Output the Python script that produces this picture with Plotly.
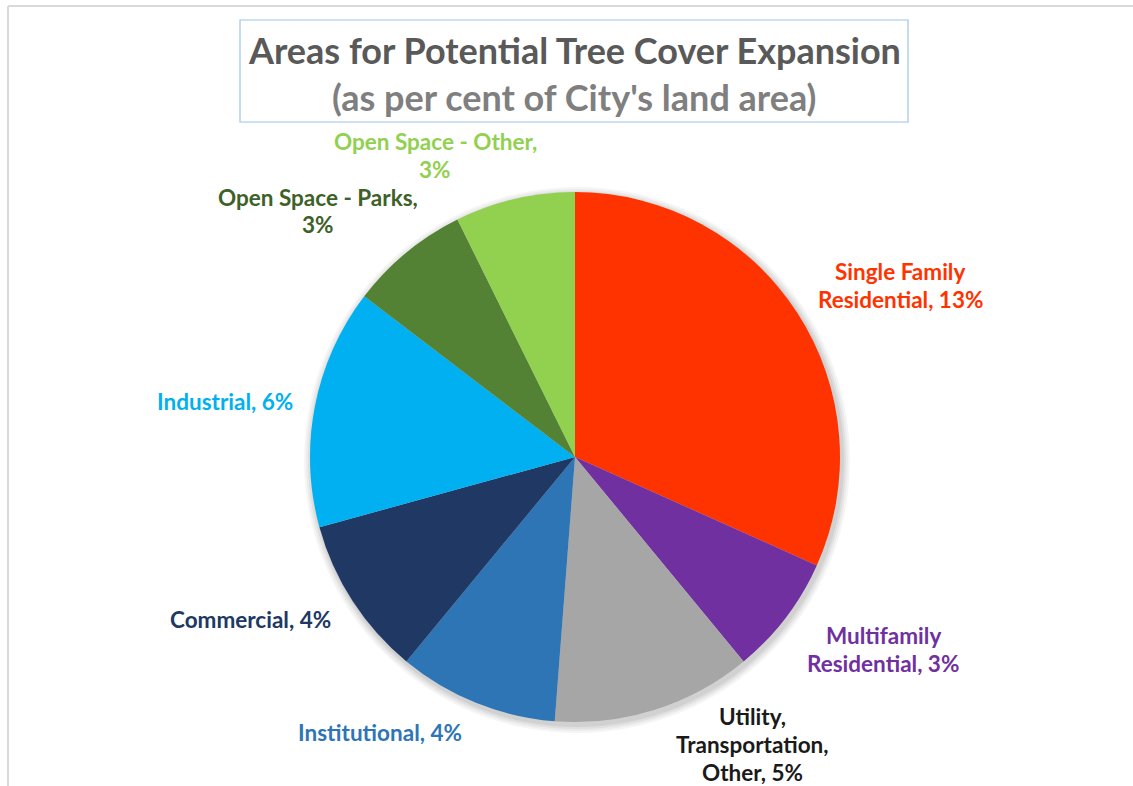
import plotly.graph_objects as go

categories = ["Single Family Residential", "Multifamily Residential",
              "Utility, Transportation, Other", "Institutional", "Commercial",
              "Industrial", "Open Space - Parks", "Open Space - Other"]
values = [13, 3, 5, 4, 4, 6, 3, 3]
colors = ["#FF3300", "#7030A0", "#A6A6A6", "#2E75B6", "#203864",
          "#00B0F0", "#548235", "#92D050"]
label_lines = [["Single Family", "Residential, 13%"],
               ["Multifamily", "Residential, 3%"],
               ["Utility,", "Transportation,", "Other, 5%"],
               ["Institutional, 4%"],
               ["Commercial, 4%"],
               ["Industrial, 6%"],
               ["Open Space - Parks,", "3%"],
               ["Open Space - Other,", "3%"]]
label_colors = ["#FF3300", "#7030A0", "#1A1A1A", "#2E75B6", "#203864",
                "#00B0F0", "#3D6128", "#92D050"]
label_pos = [(900, 271), (883, 635), (752, 716), (380, 732), (250, 619),
             (225, 402), (318, 197), (435, 141)]
title_lines = ["Areas for Potential Tree Cover Expansion",
               "(as per cent of City's land area)"]

W, H = 1133, 786
cx, cy, r = 575, 457, 265
FONT = "Lato"

fig = go.Figure(go.Pie(
    labels=categories, values=values, sort=False, direction="clockwise",
    rotation=0, marker=dict(colors=colors, line=dict(width=0)),
    textinfo="none", hoverinfo="label+value", showlegend=False,
    domain=dict(x=[(cx - r) / W, (cx + r) / W],
                y=[(H - cy - r) / H, (H - cy + r) / H]),
))

def px(x):
    return x / W

def py(y):
    return 1 - y / H

shapes = []
# soft shadow around the pie
for i, a in enumerate([0.04, 0.04, 0.05, 0.06]):
    g = 8 - 2 * i
    shapes.append(dict(type="circle", xref="paper", yref="paper", layer="below",
                       x0=px(cx - r - g + 2), x1=px(cx + r + g + 2),
                       y0=py(cy + r + g + 3), y1=py(cy - r - g + 3),
                       fillcolor=f"rgba(0,0,0,{a})", line=dict(width=0)))
# outer chart border
shapes.append(dict(type="line", xref="paper", yref="paper", x0=px(8), x1=1.0,
                   y0=py(6), y1=py(6), line=dict(color="#D9D9D9", width=2)))
shapes.append(dict(type="line", xref="paper", yref="paper", x0=px(8), x1=px(8),
                   y0=py(6), y1=py(786), line=dict(color="#D9D9D9", width=2)))
# title box
shapes.append(dict(type="rect", xref="paper", yref="paper", x0=px(240), x1=px(908),
                   y0=py(122), y1=py(20), line=dict(color="#9DC3E6", width=1.2),
                   fillcolor="rgba(0,0,0,0)"))

annotations = []
for k, (t, col, yy) in enumerate(zip(title_lines, ["#595959", "#7F7F7F"], [50, 97])):
    annotations.append(dict(text=f"<b>{t}</b>", x=px(574), y=py(yy),
                            xref="paper", yref="paper", showarrow=False,
                            xanchor="center", yanchor="middle",
                            font=dict(family=FONT, size=36, color=col)))
for lines, col, (lx, ly) in zip(label_lines, label_colors, label_pos):
    for k, t in enumerate(lines):
        annotations.append(dict(text=f"<b>{t}</b>", x=px(lx), y=py(ly + 28 * k),
                                xref="paper", yref="paper", showarrow=False,
                                xanchor="center", yanchor="middle",
                                font=dict(family=FONT, size=22.5, color=col)))

fig.update_layout(width=W, height=H, margin=dict(l=0, r=0, t=0, b=0),
                  paper_bgcolor="white", plot_bgcolor="white",
                  shapes=shapes, annotations=annotations)
fig.write_html("out.html")
